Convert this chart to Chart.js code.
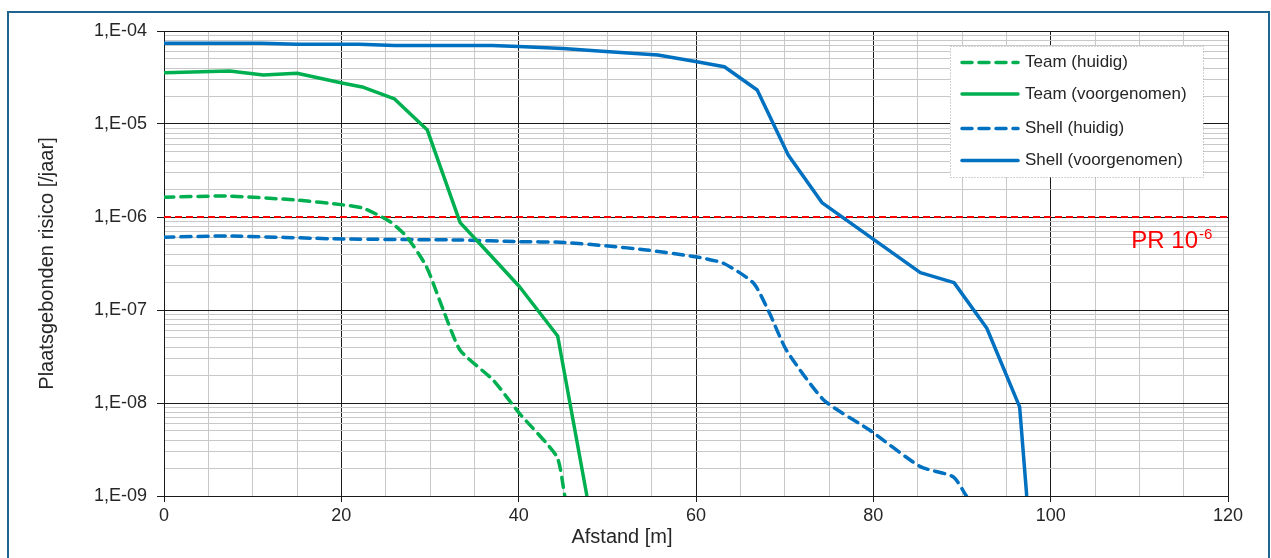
<!DOCTYPE html>
<html><head><meta charset="utf-8">
<script src="https://cdn.jsdelivr.net/npm/chart.js@4.4.1/dist/chart.umd.min.js"></script>
<style>html,body{margin:0;padding:0;background:#fff;}#wrap{position:relative;width:1271px;height:558px;}</style>
</head><body><div id="wrap"><canvas id="c" width="1271" height="558"></canvas></div>
<script>
// ---- data ----
const distTeamHuidig = [0, 7.1, 15, 20.2, 22.5, 25.5, 27.4, 29.6, 31.5, 33.4, 37.1, 40.1, 44.3, 45.2];
const riskTeamHuidig = [1.63e-6, 1.68e-6, 1.52e-6, 1.35e-6, 1.24e-6, 8.9e-7, 6.1e-7, 2.92e-7, 1.0e-7, 3.7e-8, 1.77e-8, 7.7e-9, 2.65e-9, 1e-9];

const distTeamVoorg = [0, 7.4, 11.2, 15, 20.2, 22.5, 26, 29.7, 33.4, 36.8, 40.1, 44.4, 47.7];
const riskTeamVoorg = [3.56e-5, 3.72e-5, 3.36e-5, 3.51e-5, 2.74e-5, 2.48e-5, 1.86e-5, 8.6e-6, 8.7e-7, 3.9e-7, 1.78e-7, 5.25e-8, 1e-9];

const distShellHuidig = [0, 7.1, 20.2, 33.4, 40.1, 44.7, 50.1, 54.4, 59.9, 63.1, 66.5, 68.3, 70.2, 74.4, 79.6, 85.3, 89, 90.5];
const riskShellHuidig = [6.05e-7, 6.25e-7, 5.8e-7, 5.66e-7, 5.43e-7, 5.35e-7, 4.88e-7, 4.42e-7, 3.74e-7, 3.18e-7, 1.94e-7, 9.2e-8, 3.7e-8, 1.08e-8, 5.1e-9, 2.07e-9, 1.61e-9, 1e-9];

const distShellVoorg = [0, 11, 15, 22, 26, 37, 40, 45, 49, 55.7, 60.1, 63.2, 66.9, 70.4, 74.2, 85.3, 89.1, 92.8, 96.5, 97.3];
const riskShellVoorg = [7.4e-5, 7.4e-5, 7.2e-5, 7.2e-5, 7.0e-5, 7.0e-5, 6.8e-5, 6.5e-5, 6.1e-5, 5.52e-5, 4.67e-5, 4.13e-5, 2.32e-5, 4.65e-6, 1.43e-6, 2.52e-7, 1.97e-7, 6.36e-8, 9.1e-9, 1e-9];

const distPR = [0, 120];
const riskPR = [1e-6, 1e-6];

const seriesLabels = ['Team (huidig)', 'Team (voorgenomen)', 'Shell (huidig)', 'Shell (voorgenomen)'];
const xTickLabels = ['0', '20', '40', '60', '80', '100', '120'];
const xTickValues = [0, 20, 40, 60, 80, 100, 120];
const yDecades = [1e-9, 1e-8, 1e-7, 1e-6, 1e-5, 1e-4];
const yTickLabels = ['1,E-09', '1,E-08', '1,E-07', '1,E-06', '1,E-05', '1,E-04'];
const xTitle = 'Afstand [m]';
const yTitle = 'Plaatsgebonden risico [/jaar]';
const prText = 'PR 10';
const prSup = '-6';

// ---- styling ----
const FONT = "'Liberation Sans', Arial, sans-serif";
const TXT = '#262626';
const GREEN = '#00b050';
const BLUE = '#0070c0';
const DASH = [10, 7];

function pts(xs, ys) { return xs.map((x, i) => ({x: x, y: ys[i]})); }
function isDecade(v) { const l = Math.log10(v); return Math.abs(l - Math.round(l)) < 1e-6; }

const datasets = [
  {label: seriesLabels[0], data: pts(distTeamHuidig, riskTeamHuidig), borderColor: GREEN, borderWidth: 3.5, borderDash: DASH, borderCapStyle: 'round', tension: 0.2},
  {label: seriesLabels[1], data: pts(distTeamVoorg, riskTeamVoorg), borderColor: GREEN, borderWidth: 3.5, tension: 0, borderJoinStyle: 'round'},
  {label: seriesLabels[2], data: pts(distShellHuidig, riskShellHuidig), borderColor: BLUE, borderWidth: 3.5, borderDash: DASH, borderCapStyle: 'round', tension: 0.2},
  {label: seriesLabels[3], data: pts(distShellVoorg, riskShellVoorg), borderColor: BLUE, borderWidth: 3.5, tension: 0, borderJoinStyle: 'round'},
  {label: 'PR', data: pts(distPR, riskPR), borderColor: '#ff0000', borderWidth: 2, borderDash: [7, 4], tension: 0}
];
datasets.forEach(d => { d.pointRadius = 0; d.fill = false; d.backgroundColor = d.borderColor; });

const decorPlugin = {
  id: 'decor',
  beforeDraw(chart) {
    const ctx = chart.ctx;
    ctx.save(); ctx.fillStyle = '#fff'; ctx.fillRect(0, 0, chart.width, chart.height); ctx.restore();
  },
  afterDraw(chart) {
    const ctx = chart.ctx;
    const xs = chart.scales.x, ys = chart.scales.y;
    ctx.save();
    // outer frame
    ctx.strokeStyle = '#1f6590'; ctx.lineWidth = 2;
    ctx.strokeRect(8, 12, 1261, 560);
    // x title
    ctx.fillStyle = TXT; ctx.font = '20px ' + FONT; ctx.textAlign = 'center'; ctx.textBaseline = 'middle';
    ctx.fillText(xTitle, 622, 537);
    // PR label
    ctx.fillStyle = '#ff0000'; ctx.textAlign = 'left'; ctx.textBaseline = 'alphabetic';
    ctx.font = '24px ' + FONT;
    const px = xs.getPixelForValue(109.1);
    const py = ys.getPixelForValue(1e-6) + 31;
    ctx.fillText(prText, px, py);
    const w = ctx.measureText(prText).width;
    ctx.font = '15px ' + FONT;
    ctx.fillText(prSup, px + w + 1, py - 9);
    // legend
    const bx = 950, by = 46, bw = 253, bh = 131;
    ctx.fillStyle = '#fff'; ctx.fillRect(bx, by, bw, bh);
    ctx.strokeStyle = '#a6a6a6'; ctx.lineWidth = 1; ctx.setLineDash([1, 2]);
    ctx.strokeRect(bx + 0.5, by + 0.5, bw, bh);
    const rows = [62.5, 94, 128.5, 160.5];
    chart.data.datasets.slice(0, 4).forEach((d, i) => {
      ctx.setLineDash(d.borderDash || []);
      ctx.lineCap = 'round';
      ctx.strokeStyle = d.borderColor; ctx.lineWidth = d.borderWidth;
      ctx.beginPath(); ctx.moveTo(962, rows[i]); ctx.lineTo(1018, rows[i]); ctx.stroke();
      ctx.setLineDash([]);
      ctx.fillStyle = TXT; ctx.font = '17px ' + FONT; ctx.textBaseline = 'middle'; ctx.textAlign = 'left';
      ctx.fillText(d.label, 1025, rows[i]);
    });
    ctx.restore();
  }
};

new Chart(document.getElementById('c'), {
  type: 'line',
  data: {datasets: datasets},
  plugins: [decorPlugin],
  options: {
    responsive: false, animation: false, devicePixelRatio: 1,
    layout: {padding: {top: 31, right: 43, bottom: 0, left: 0}},
    plugins: {legend: {display: false}, tooltip: {enabled: false}},
    scales: {
      x: {
        type: 'linear', min: 0, max: 120,
        afterBuildTicks: s => { const t = []; for (let v = 0; v <= 120; v += 5) t.push({value: v}); s.ticks = t; },
        afterFit: s => { s.height = 62; },
        ticks: {autoSkip: false, maxRotation: 0, padding: 3, color: TXT, font: {family: FONT, size: 18},
          callback: v => { const i = xTickValues.indexOf(v); return i >= 0 ? xTickLabels[i] : ''; }},
        grid: {lineWidth: 1, tickLength: 6,
          color: c => (c.tick && c.tick.value % 20 === 0) ? '#1a1a1a' : '#c8c8c8',
          tickColor: c => (c.tick && c.tick.value % 20 === 0) ? '#1a1a1a' : 'rgba(0,0,0,0)'},
        border: {display: true, color: '#1a1a1a', width: 1}
      },
      y: {
        type: 'logarithmic', min: 1e-9, max: 1e-4,
        afterBuildTicks: s => {
          const t = [];
          for (let k = 0; k < yDecades.length - 1; k++) for (let m = 1; m <= 9; m++) t.push({value: m * yDecades[k]});
          t.push({value: yDecades[yDecades.length - 1]});
          s.ticks = t;
        },
        afterFit: s => { s.width = 164; },
        ticks: {autoSkip: false, padding: 10, color: TXT, font: {family: FONT, size: 18},
          callback: v => { if (!isDecade(v)) return ''; const i = yDecades.findIndex(d => Math.abs(Math.log10(d) - Math.log10(v)) < 1e-6); return i >= 0 ? yTickLabels[i] : ''; }},
        grid: {lineWidth: 1, tickLength: 7,
          color: c => (c.tick && isDecade(c.tick.value)) ? '#1a1a1a' : '#c8c8c8',
          tickColor: c => (c.tick && isDecade(c.tick.value)) ? '#1a1a1a' : 'rgba(0,0,0,0)'},
        border: {display: true, color: '#1a1a1a', width: 1},
        title: {display: true, text: yTitle, color: TXT, font: {family: FONT, size: 20}, padding: {top: 35, bottom: 0}}
      }
    }
  }
});
</script></body></html>
